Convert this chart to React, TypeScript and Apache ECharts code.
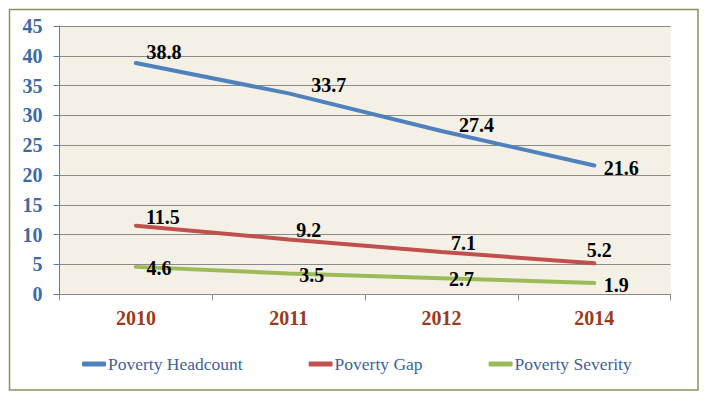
import React, { useEffect, useRef } from "react";
import * as echarts from "echarts";

const categories = ["2010", "2011", "2012", "2014"];
const headcount = [38.8, 33.7, 27.4, 21.6];
const gap = [11.5, 9.2, 7.1, 5.2];
const severity = [4.6, 3.5, 2.7, 1.9];
const seriesNames = ["Poverty Headcount", "Poverty Gap", "Poverty Severity"];

// label centre offsets (px) relative to each point
const headcountOffsets = [[28, -11], [40, -8], [35, -6], [27, 2]];
const gapOffsets = [[27, -9], [20, -9], [22, -9], [5, -13]];
const severityOffsets = [[23, 1], [23, 2], [20, 1], [22, 2]];

const FONT = "'Times New Roman', 'Liberation Serif', 'DejaVu Serif', serif";

function mkSeries(name: string, values: number[], color: string, offsets: number[][]) {
  return {
    name,
    type: "line",
    symbol: "circle",
    symbolSize: 0.01,
    showSymbol: true,
    lineStyle: { color, width: 4, cap: "round" },
    itemStyle: { color },
    data: values.map((v, i) => ({
      value: v,
      label: { offset: offsets[i] },
    })),
    label: {
      show: true,
      position: "inside",
      fontFamily: FONT,
      fontWeight: "bold",
      fontSize: 20,
      color: "#000",
    },
  };
}

export default function App() {
  const ref = useRef<HTMLDivElement>(null);
  useEffect(() => {
    if (!ref.current) return;
    const chart = echarts.init(ref.current, null, { renderer: "svg" });
    chart.setOption({
      animation: false,
      backgroundColor: "#ffffff",
      textStyle: { fontFamily: FONT },
      graphic: [
        {
          type: "rect",
          shape: { x: 9.5, y: 9.5, width: 688.5, height: 380.5 },
          style: { fill: "none", stroke: "#8e8e5e", lineWidth: 1.5 },
          silent: true,
        },
      ],
      grid: {
        left: 59.5,
        right: 34.3,
        top: 26,
        bottom: 98.7,
        show: true,
        backgroundColor: "#f4f0e5",
        borderWidth: 0,
      },
      legend: {
        left: 77,
        top: 350,
        itemWidth: 24,
        itemHeight: 5,
        itemGap: 66,
        icon: "roundRect",
        textStyle: { fontFamily: FONT, fontSize: 17.5, color: "#3f5f9e", padding: [0, 0, 0, -3] },
        data: seriesNames,
      },
      xAxis: {
        type: "category",
        data: categories,
        boundaryGap: true,
        axisLine: { lineStyle: { color: "#8a8a8a", width: 1 } },
        axisTick: { show: true, length: 6, lineStyle: { color: "#8a8a8a" } },
        axisLabel: {
          fontFamily: FONT,
          fontWeight: "bold",
          fontSize: 20,
          color: "#9a3b1d",
          margin: 14,
        },
      },
      yAxis: {
        type: "value",
        min: 0,
        max: 45,
        interval: 5,
        axisLine: { show: true, lineStyle: { color: "#4f81bd", width: 1 } },
        axisTick: { show: true, length: 6, lineStyle: { color: "#4f81bd" } },
        splitLine: { lineStyle: { color: "#8a8a8a", width: 1 } },
        axisLabel: {
          fontFamily: FONT,
          fontWeight: "bold",
          fontSize: 20,
          color: "#3d6aa5",
          margin: 17,
        },
      },
      series: [
        mkSeries(seriesNames[0], headcount, "#4f81bd", headcountOffsets),
        mkSeries(seriesNames[1], gap, "#c0504d", gapOffsets),
        mkSeries(seriesNames[2], severity, "#9bbb59", severityOffsets),
      ],
    });
    return () => chart.dispose();
  }, []);
  return (
    <div
      ref={ref}
      style={{ position: "fixed", left: 0, top: 0, width: 705, height: 393 }}
    />
  );
}
